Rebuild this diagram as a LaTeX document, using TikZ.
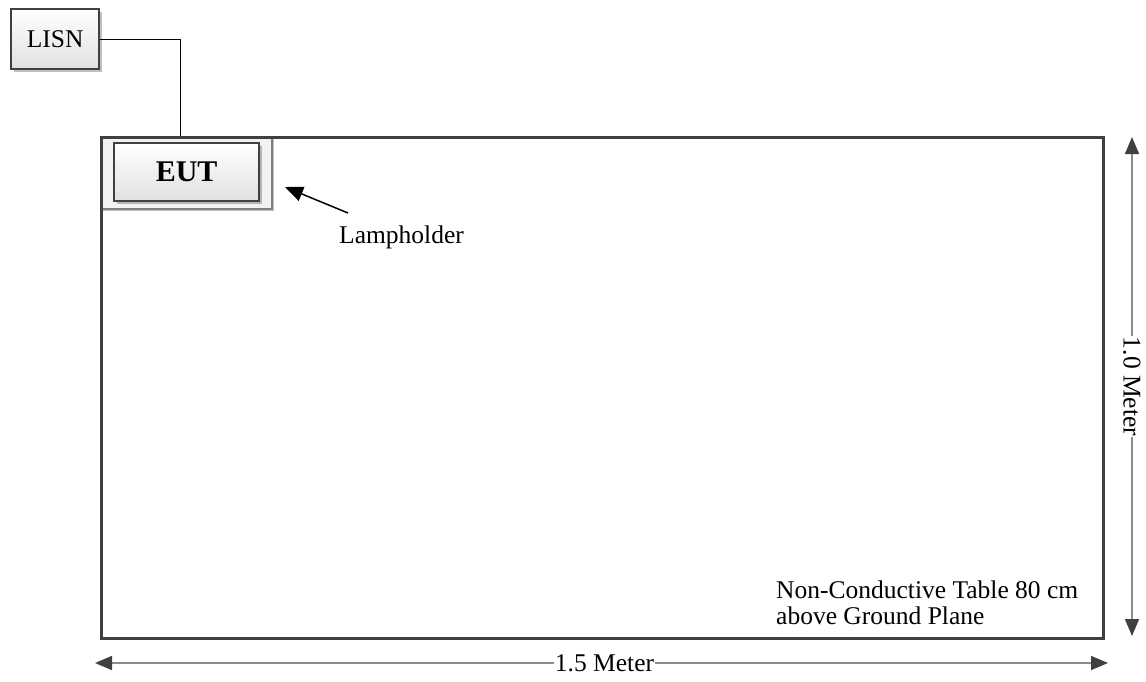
\documentclass[tikz,border=0pt]{standalone}
\usepackage{fontspec}
\setmainfont{Liberation Serif}
\usetikzlibrary{arrows.meta,shadows,calc}
\begin{document}
\begin{tikzpicture}[x=1pt,y=-1pt,
  box/.style={draw=black!75,line width=2.2pt,top color=white,bottom color=black!12,
    drop shadow={shadow xshift=2.5pt,shadow yshift=-2.5pt,opacity=0.25,fill=black}},
  dim/.style={draw=black!45,line width=1.5pt,{Triangle[length=17pt,width=14pt,color=black!75]}-{Triangle[length=17pt,width=14pt,color=black!75]}},
  txt/.style={font=\fontsize{25.5}{26}\selectfont},
  wire/.style={draw=black,line width=0.9pt}]
\useasboundingbox (0,0) rectangle (1146,681);
% LISN
\node[box,txt,anchor=north west,minimum width=88pt,minimum height=60pt,inner sep=0pt] (lisn) at (10,8) {LISN};
% Lampholder and EUT
\node[anchor=north west,minimum width=171pt,minimum height=72pt,inner sep=0pt,
  draw=black!50,line width=1.5pt,fill=black!5,
  drop shadow={shadow xshift=2.5pt,shadow yshift=-2.5pt,opacity=0.25,fill=black}] (lamp) at (100,136) {};
\node[box,anchor=north west,minimum width=145pt,minimum height=58pt,inner sep=0pt,
  font=\bfseries\fontsize{30}{30}\selectfont] (eut) at (113,142) {EUT};
% Table
\node[anchor=north west,minimum width=1002pt,minimum height=501pt,inner sep=0pt,
  draw=black!75,line width=3pt] (table) at (100,136) {};
% connector
\coordinate (tap) at (180,136);
\draw[wire] (lisn.east) -| (tap);
% Lampholder label
\node[txt,anchor=base west,inner sep=0pt] (lh) at (339,243) {Lampholder};
\coordinate (tail) at (348,213);
\coordinate (tip) at (285,187);
\draw[line width=1.5pt,-{Triangle[length=18pt,width=15pt]}] (tail) -- (tip);
% Table note
\node[txt,anchor=north west,align=left,inner sep=0pt] (note) at (776,581) {Non-Conductive Table 80 cm\\above Ground Plane};
% dimensions
\coordinate (r1) at (1132,137);
\coordinate (r2) at (1132,636);
\draw[dim] (r1) -- node[txt,fill=white,rotate=-90,inner sep=1pt] (m1) {1.0 Meter} (r2);
\coordinate (b1) at (95,663);
\coordinate (b2) at (1108,663);
\draw[dim] (b1) -- node[txt,fill=white,inner sep=1pt,pos=0.503] (m2) {1.5 Meter} (b2);
\end{tikzpicture}
\end{document}
